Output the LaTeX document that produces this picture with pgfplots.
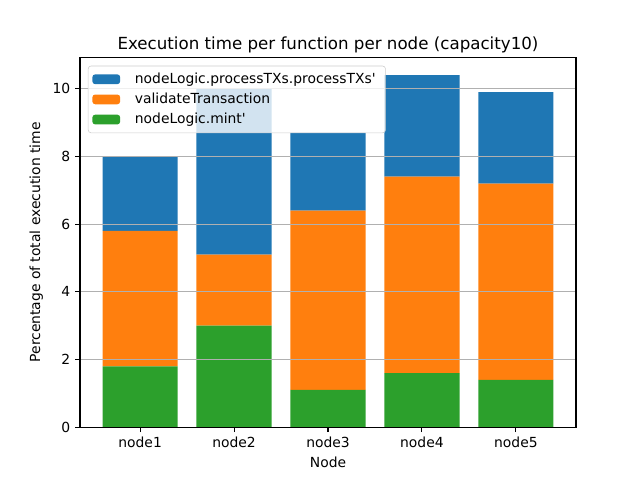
\documentclass[border=0pt]{standalone}
\usepackage{fontspec}
\setmainfont{DejaVu Sans}[Ligatures=TeXOff]
\usepackage{pgfplots}
\pgfplotsset{compat=1.18}
\definecolor{mplblue}{HTML}{1F77B4}
\definecolor{mplorange}{HTML}{FF7F0E}
\definecolor{mplgreen}{HTML}{2CA02C}
\definecolor{mplgrid}{HTML}{B0B0B0}
\definecolor{mplframe}{HTML}{CCCCCC}

\begin{document}
\begin{tikzpicture}
\path (0,0) rectangle (460.8pt,345.6pt);
\begin{axis}[
    at={(57.6pt,38.016pt)}, anchor=south west,
    scale only axis,
    width=357.12pt, height=266.11pt,
    ybar stacked,
    bar width=0.8,
    xmin=-0.64, xmax=4.64,
    ymin=0, ymax=10.92,
    xtick={0,1,2,3,4},
    xticklabels={node1,node2,node3,node4,node5},
    ytick={0,2,4,6,8,10},
    tick pos=left,
    tick align=outside,
    major tick length=3.5pt,
    tick style={black, line width=0.8pt},
    axis line style={line width=0.8pt},
    ymajorgrids,
    grid style={mplgrid, line width=0.8pt},
    axis on top,
    tick label style={font=\fontsize{10}{12}\selectfont},
    /pgf/number format/assume math mode=true,
    xlabel={Node},
    ylabel={Percentage of total execution time},
    label style={font=\fontsize{10}{12}\selectfont},
    title={Execution time per function per node (capacity10)},
    title style={font=\fontsize{12}{14}\selectfont, at={(0.5,1)}, anchor=base},
    reverse legend,
    legend cell align=left,
    legend image code/.code={\fill[#1, fill opacity=1] (0pt,-3.5pt) rectangle (20pt,3.5pt);},
    legend style={
        at={(0.016,0.978)}, anchor=north west,
        draw=mplframe, fill=white, fill opacity=0.8, text opacity=1,
        rounded corners=2pt,
        font=\fontsize{10}{12}\selectfont,
        row sep=1.4pt,
        inner xsep=3pt, inner ysep=3pt,
        nodes={inner xsep=4pt}
    }
]
\addplot[fill=mplgreen, draw=none] coordinates {(0,1.8) (1,3.0) (2,1.1) (3,1.6) (4,1.4)};
\addlegendentry{\hspace{6.6pt}nodeLogic.mint'}
\addplot[fill=mplorange, draw=none] coordinates {(0,4.0) (1,2.1) (2,5.3) (3,5.8) (4,5.8)};
\addlegendentry{\hspace{6.6pt}validateTransaction}
\addplot[fill=mplblue, draw=none] coordinates {(0,2.2) (1,4.9) (2,2.3) (3,3.0) (4,2.7)};
\addlegendentry{\hspace{6.6pt}nodeLogic.processTXs.processTXs'}
\end{axis}
\end{tikzpicture}
\end{document}
